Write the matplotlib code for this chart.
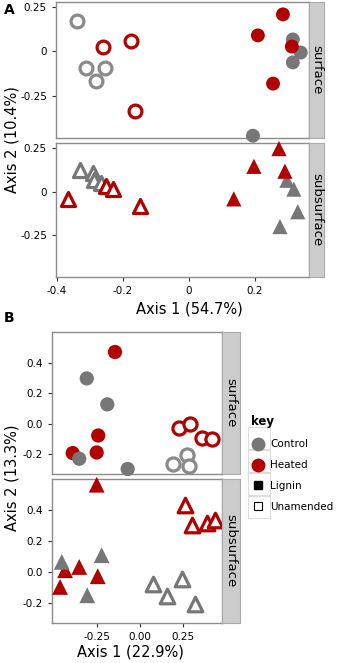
import matplotlib
matplotlib.use("Agg")
import matplotlib.pyplot as plt
from matplotlib.lines import Line2D
from matplotlib.patches import Rectangle

RED = '#B20000'
GREY = '#777777'
GREY_OPEN = '#8a8a8a'

# ---- Panel A data (Axis 1, Axis 2) ----
a_surf_ctrl_lig_x = [0.315, 0.339, 0.315, 0.194]
a_surf_ctrl_lig_y = [0.068, -0.006, -0.062, -0.477]
a_surf_heat_lig_x = [0.285, 0.209, 0.312, 0.255]
a_surf_heat_lig_y = [0.210, 0.091, 0.028, -0.182]
a_surf_ctrl_una_x = [-0.339, -0.312, -0.282, -0.255]
a_surf_ctrl_una_y = [0.170, -0.091, -0.170, -0.091]
a_surf_heat_una_x = [-0.261, -0.176, -0.164]
a_surf_heat_una_y = [0.023, 0.057, -0.335]

a_sub_ctrl_lig_x = [0.297, 0.318, 0.330, 0.276]
a_sub_ctrl_lig_y = [0.066, 0.015, -0.115, -0.200]
a_sub_heat_lig_x = [0.273, 0.197, 0.291, 0.136]
a_sub_heat_lig_y = [0.248, 0.146, 0.118, -0.041]
a_sub_ctrl_una_x = [-0.330, -0.291, -0.288, -0.267]
a_sub_ctrl_una_y = [0.123, 0.106, 0.066, 0.049]
a_sub_heat_una_x = [-0.252, -0.230, -0.367, -0.148]
a_sub_heat_una_y = [0.032, 0.015, -0.041, -0.081]

# ---- Panel B data ----
b_surf_ctrl_lig_x = [-0.311, -0.191, -0.355, -0.072]
b_surf_ctrl_lig_y = [0.296, 0.126, -0.230, -0.297]
b_surf_heat_lig_x = [-0.146, -0.244, -0.253, -0.393]
b_surf_heat_lig_y = [0.469, -0.078, -0.189, -0.193]
b_surf_ctrl_una_x = [0.276, 0.191, 0.288]
b_surf_ctrl_una_y = [-0.204, -0.264, -0.280]
b_surf_heat_una_x = [0.230, 0.292, 0.360, 0.419]
b_surf_heat_una_y = [-0.026, -0.002, -0.095, -0.102]

b_sub_ctrl_lig_x = [-0.457, -0.224, -0.308]
b_sub_ctrl_lig_y = [0.065, 0.108, -0.151]
b_sub_heat_lig_x = [-0.253, -0.438, -0.355, -0.247, -0.467]
b_sub_heat_lig_y = [0.563, 0.011, 0.032, -0.028, -0.097]
b_sub_ctrl_una_x = [0.078, 0.156, 0.244, 0.321]
b_sub_ctrl_una_y = [-0.075, -0.158, -0.049, -0.205]
b_sub_heat_una_x = [0.263, 0.302, 0.390, 0.438]
b_sub_heat_una_y = [0.433, 0.303, 0.314, 0.336]

W, H = 340, 663
fig = plt.figure(figsize=(W / 100, H / 100), dpi=100)


def box(l, t, r, b):
    return [l / W, 1 - b / H, (r - l) / W, (b - t) / H]


def style(ax, xlim, ylim):
    ax.set_xlim(*xlim)
    ax.set_ylim(*ylim)
    for s in ax.spines.values():
        s.set_color('#8c8c8c')
        s.set_linewidth(1.0)
    ax.tick_params(labelsize=7.5, length=3, color='#333333', width=0.8)


def strip(l, t, r, b, text):
    sax = fig.add_axes(box(l, t, r, b))
    sax.set_facecolor('#CCCCCC')
    sax.set_xticks([])
    sax.set_yticks([])
    for s in sax.spines.values():
        s.set_color('#aaaaaa')
    sax.text(0.5, 0.5, text, rotation=-90, ha='center', va='center', fontsize=9.5)


def draw(ax, groups, marker, size):
    for xs, ys, col, filled in groups:
        if filled:
            ax.scatter(xs, ys, s=size, marker=marker, c=col, edgecolors='none',
                       clip_on=False, zorder=3)
        else:
            ax.scatter(xs, ys, s=size * 0.85, marker=marker, facecolors='white',
                       edgecolors=col, linewidths=2.3, clip_on=False, zorder=3)


# ---------- Panel A ----------
a_xlim = (-0.403, 0.364)
a_ylim = (-0.49, 0.28)
ax1 = fig.add_axes(box(56, 2, 309, 138))
style(ax1, a_xlim, a_ylim)
draw(ax1, [(a_surf_ctrl_una_x, a_surf_ctrl_una_y, GREY_OPEN, False),
           (a_surf_heat_una_x, a_surf_heat_una_y, RED, False),
           (a_surf_ctrl_lig_x, a_surf_ctrl_lig_y, GREY, True),
           (a_surf_heat_lig_x, a_surf_heat_lig_y, RED, True)], 'o', 100)
ax1.set_xticks([-0.4, -0.2, 0, 0.2])
ax1.tick_params(axis='x', bottom=False, labelbottom=False)
ax1.set_yticks([-0.25, 0, 0.25])
ax1.set_yticklabels(['-0.25', '0', '0.25'])
strip(309, 2, 324, 138, 'surface')

ax2 = fig.add_axes(box(56, 143, 309, 277))
style(ax2, a_xlim, a_ylim)
draw(ax2, [(a_sub_ctrl_una_x, a_sub_ctrl_una_y, GREY, False),
           (a_sub_heat_una_x, a_sub_heat_una_y, RED, False),
           (a_sub_ctrl_lig_x, a_sub_ctrl_lig_y, GREY, True),
           (a_sub_heat_lig_x, a_sub_heat_lig_y, RED, True)], '^', 120)
ax2.set_xticks([-0.4, -0.2, 0, 0.2])
ax2.set_xticklabels(['-0.4', '-0.2', '0', '0.2'])
ax2.set_yticks([-0.25, 0, 0.25])
ax2.set_yticklabels(['-0.25', '0', '0.25'])
strip(309, 143, 324, 277, 'subsurface')

fig.text(189 / W, 1 - 309 / H, 'Axis 1 (54.7%)', ha='center', va='center', fontsize=10.5)
fig.text(12 / W, 1 - 140 / H, 'Axis 2 (10.4%)', ha='center', va='center',
         rotation=90, fontsize=10.5)
fig.text(4 / W, 1 - 10 / H, 'A', fontweight='bold', fontsize=10, va='center')

# ---------- Panel B ----------
b_xlim = (-0.514, 0.479)
b_ylim = (-0.33, 0.60)
bx1 = fig.add_axes(box(52, 332, 222, 474))
style(bx1, b_xlim, b_ylim)
draw(bx1, [(b_surf_ctrl_una_x, b_surf_ctrl_una_y, GREY_OPEN, False),
           (b_surf_heat_una_x, b_surf_heat_una_y, RED, False),
           (b_surf_heat_lig_x, b_surf_heat_lig_y, RED, True),
           (b_surf_ctrl_lig_x, b_surf_ctrl_lig_y, GREY, True)], 'o', 105)
bx1.set_xticks([-0.25, 0, 0.25])
bx1.tick_params(axis='x', bottom=False, labelbottom=False)
bx1.set_yticks([-0.2, 0.0, 0.2, 0.4])
bx1.set_yticklabels(['-0.2', '0.0', '0.2', '0.4'])
strip(222, 332, 240, 474, 'surface')

bx2 = fig.add_axes(box(52, 479, 222, 623))
style(bx2, b_xlim, b_ylim)
draw(bx2, [(b_sub_ctrl_una_x, b_sub_ctrl_una_y, GREY, False),
           (b_sub_heat_una_x, b_sub_heat_una_y, RED, False),
           (b_sub_heat_lig_x, b_sub_heat_lig_y, RED, True),
           (b_sub_ctrl_lig_x, b_sub_ctrl_lig_y, GREY, True)], '^', 130)
bx2.set_xticks([-0.25, 0, 0.25])
bx2.set_xticklabels(['-0.25', '0.00', '0.25'])
bx2.set_yticks([-0.2, 0.0, 0.2, 0.4])
bx2.set_yticklabels(['-0.2', '0.0', '0.2', '0.4'])
strip(222, 479, 240, 623, 'subsurface')

fig.text(130 / W, 1 - 652 / H, 'Axis 1 (22.9%)', ha='center', va='center', fontsize=10.5)
fig.text(12 / W, 1 - 478 / H, 'Axis 2 (13.3%)', ha='center', va='center',
         rotation=90, fontsize=10.5)
fig.text(4 / W, 1 - 318 / H, 'B', fontweight='bold', fontsize=10, va='center')

# ---------- legend ----------
key_labels = ['Control', 'Heated', 'Lignin', 'Unamended']
key_handles = [
    Line2D([], [], ls='none', marker='o', ms=10, mfc=GREY, mec='none'),
    Line2D([], [], ls='none', marker='o', ms=10, mfc=RED, mec='none'),
    Line2D([], [], ls='none', marker='s', ms=6, mfc='black', mec='black'),
    Line2D([], [], ls='none', marker='s', ms=6, mfc='white', mec='black', mew=0.8),
]
leg = fig.legend(key_handles, key_labels, title='key', loc='upper left',
                 bbox_to_anchor=(244 / W, 1 - 408 / H), frameon=False,
                 fontsize=7.5, handlelength=1.2, handletextpad=0.6,
                 labelspacing=1.05, borderpad=0.2)
leg.get_title().set_fontweight('bold')
leg.get_title().set_fontsize(8.5)
leg._legend_box.align = 'left'
for top in [427, 450, 473, 496]:
    fig.add_artist(Rectangle((248 / W, 1 - (top + 22) / H), 22 / W, 22 / H,
                             transform=fig.transFigure, fill=False,
                             edgecolor='#dddddd', linewidth=0.8))

fig.savefig('out.png', dpi=100)
